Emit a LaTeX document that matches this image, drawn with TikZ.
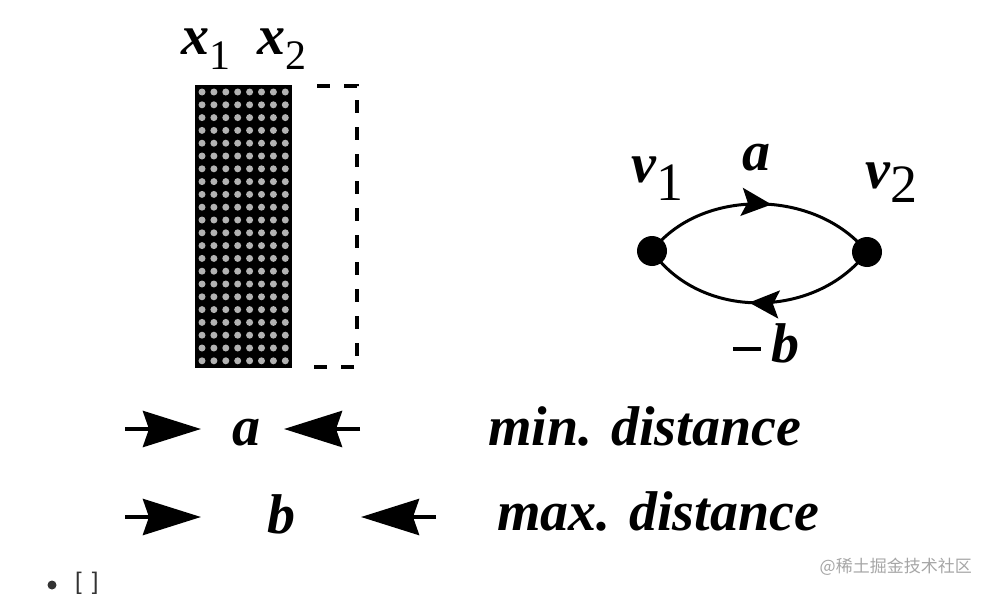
\documentclass[tikz,border=0pt]{standalone}
\usepackage{fontspec}
\setmainfont{Liberation Serif}
\newfontfamily\cjk{Noto Sans CJK SC}
\newfontfamily\uisans{Liberation Sans}
\usetikzlibrary{arrows.meta,decorations.markings}
\tikzset{
  lbl/.style={inner sep=0pt, font=\fontsize{56}{60}\selectfont\bfseries\itshape},
  bigarrow/.style={line width=4.5pt, -{Stealth[length=58pt,width=36pt,inset=6pt]}},
  vertex/.style={circle, fill=black, minimum size=30pt, inner sep=0pt},
  edgeline/.style={line width=3pt},
  midarrow/.style={postaction={decorate, decoration={markings,
     mark=at position #1 with {\arrow{Stealth[length=30pt,width=28pt,inset=6pt]}}}}},
  pagetext/.style={inner sep=0pt, text=black!80, font=\uisans\fontsize{24}{24}\selectfont},
  bulletdot/.style={circle, fill=black!80, minimum size=9pt, inner sep=0pt},
}
\begin{document}
\begin{tikzpicture}[x=1pt,y=-1pt]
\useasboundingbox (0,0) rectangle (990,594);
% shaded block
\node[draw=none, fill=black, minimum width=97pt, minimum height=283pt, inner sep=0pt, anchor=north west] (block) at (195,85) {};
\foreach \i in {0,...,7}
  \foreach \j in {0,...,21}
    \fill[gray!60] (202+\i*11.9, 92+\j*12.8) circle (3.5);
% dashed extension
\coordinate (d0) at (303,86);
\coordinate (d1) at (357,86);
\coordinate (d2) at (357,367);
\coordinate (d3) at (303,367);
\draw[line width=4pt, dash pattern=on 13pt off 14pt, dash phase=13pt] (d0) -- (d1) -- (d2) -- (d3);
% labels x1 x2
\node[lbl, anchor=base west] (x1) at (181,55) {x\raisebox{-15pt}{\upshape\mdseries\fontsize{42}{42}\selectfont 1}};
\node[lbl, anchor=base west] (x2) at (257,55) {x\raisebox{-15pt}{\upshape\mdseries\fontsize{42}{42}\selectfont 2}};
% graph
\node[vertex] (v1) at (652,251) {};
\node[vertex] (v2) at (867,252) {};
\draw[edgeline, midarrow=0.55] (v1.center) .. controls (700,188) and (815,188) .. (v2.center);
\draw[edgeline, midarrow=0.54] (v2.center) .. controls (815,320) and (700,320) .. (v1.center);
\node[lbl, anchor=base west] (lv1) at (631,182) {v\raisebox{-18pt}{\upshape\mdseries\fontsize{54}{54}\selectfont 1}};
\node[lbl, anchor=base west] (lv2) at (865,188) {v\raisebox{-14pt}{\upshape\mdseries\fontsize{54}{54}\selectfont 2}};
\node[lbl, anchor=base] (la) at (756,170) {a};
\node[lbl, anchor=base west] (lb) at (733,362) {\rule[11pt]{28pt}{4pt}\hspace{10pt}b};
% bottom rows
\coordinate (r1a) at (125,429);
\coordinate (r1b) at (201,429);
\coordinate (r1c) at (360,429);
\coordinate (r1d) at (284,429);
\coordinate (r2a) at (125,517);
\coordinate (r2b) at (201,517);
\coordinate (r2c) at (436,517);
\coordinate (r2d) at (361,517);
\draw[bigarrow] (r1a) -- (r1b);
\draw[bigarrow] (r1c) -- (r1d);
\draw[bigarrow] (r2a) -- (r2b);
\draw[bigarrow] (r2c) -- (r2d);
\node[lbl, anchor=base] (ra) at (246,445) {a};
\node[lbl, anchor=base] (rb) at (281,533) {b};
\node[lbl, anchor=base west] (tmin) at (488,445) {min. distance};
\node[lbl, anchor=base west] (tmax) at (497,530) {max. distance};
% page artifacts
\node[inner sep=0pt, anchor=base east, text=black!35, font=\cjk\fontsize{17}{17}\selectfont] (wm) at (972,572) {@稀土掘金技术社区};
\node[bulletdot] (bul) at (52,585) {};
\node[pagetext, anchor=base west] (brk) at (75,589) {[\hspace{10pt}]};
\end{tikzpicture}
\end{document}
